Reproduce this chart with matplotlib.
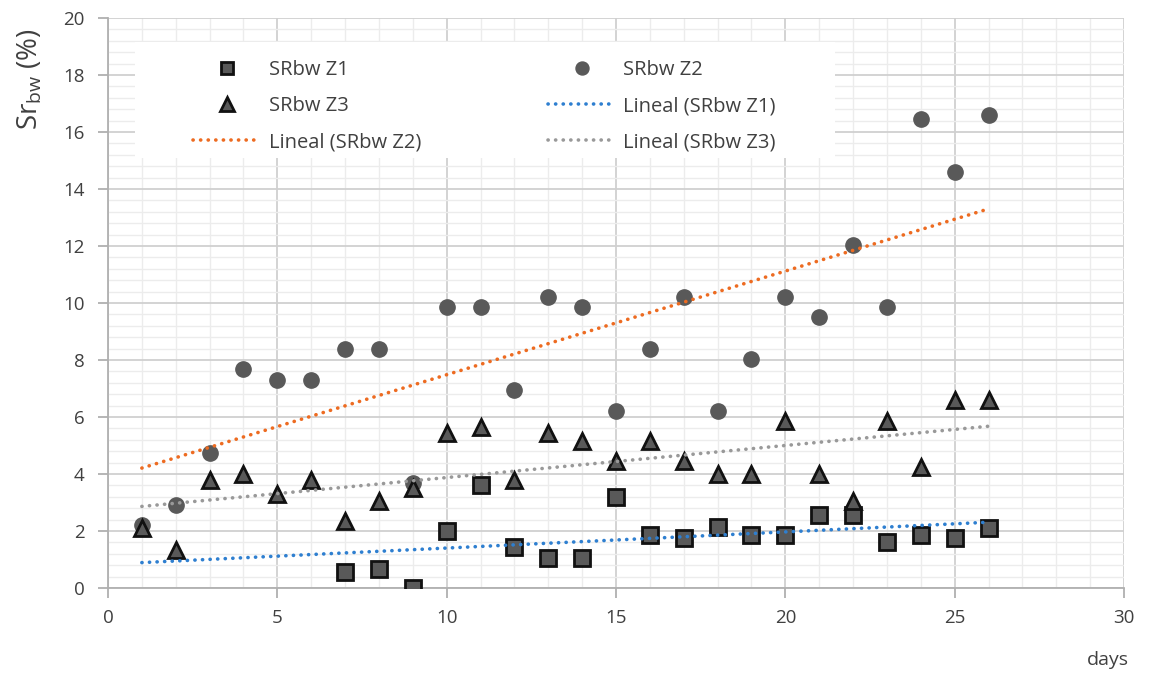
import numpy as np
import matplotlib
matplotlib.use("Agg")
import matplotlib.pyplot as plt
from matplotlib.ticker import MultipleLocator
from matplotlib.patches import Rectangle

plt.rcParams['font.family'] = ['Open Sans', 'DejaVu Sans']
plt.rcParams['mathtext.fontset'] = 'custom'
plt.rcParams['mathtext.rm'] = 'Open Sans'
plt.rcParams['mathtext.it'] = 'Open Sans'

# ---- data ----
days_z1 = list(range(7, 27))
srbw_z1 = [0.55, 0.65, 0.0, 2.0, 3.6, 1.45, 1.05, 1.05, 3.2, 1.85,
           1.75, 2.15, 1.85, 1.85, 2.55, 2.55, 1.6, 1.85, 1.75, 2.1]
days_z2 = list(range(1, 27))
srbw_z2 = [2.2, 2.9, 4.75, 7.7, 7.3, 7.3, 8.4, 8.4, 3.7, 9.85,
           9.85, 6.95, 10.2, 9.85, 6.2, 8.4, 10.2, 6.2, 8.05, 10.2,
           9.5, 12.05, 9.85, 16.45, 14.6, 16.6]
days_z3 = list(range(1, 27))
srbw_z3 = [2.1, 1.35, 3.8, 4.0, 3.3, 3.8, 2.35, 3.05, 3.5, 5.45,
           5.65, 3.8, 5.45, 5.15, 4.45, 5.15, 4.45, 4.0, 4.0, 5.85,
           4.0, 3.05, 5.85, 4.25, 6.6, 6.6]
trend_range = [1, 26]

W, H = 1151, 673
fig = plt.figure(figsize=(W/100, H/100), dpi=100)
L, R, T, B = 108, 1124, 18, 588
ax = fig.add_axes([L/W, 1-B/H, (R-L)/W, (B-T)/H])

def ax_frac(px, py):
    return (px-L)/(R-L), 1-(py-T)/(B-T)

ax.set_xlim(0, 30)
ax.set_ylim(0, 20)
ax.xaxis.set_major_locator(MultipleLocator(5))
ax.xaxis.set_minor_locator(MultipleLocator(1))
ax.yaxis.set_major_locator(MultipleLocator(2))
ax.yaxis.set_minor_locator(MultipleLocator(0.4))
ax.grid(which='minor', color='#ececec', linewidth=1.0)
ax.grid(which='major', color='#d0d0d0', linewidth=1.3)
ax.set_axisbelow(True)

for s in ['top', 'right']:
    ax.spines[s].set_visible(False)
for s in ['left', 'bottom']:
    ax.spines[s].set_color('#b0b0b0')
    ax.spines[s].set_linewidth(1.3)
ax.tick_params(which='major', length=7, color='#b0b0b0', width=1.3,
               labelsize=13.5, labelcolor='#404040', direction='out')
ax.tick_params(axis='y', pad=10)
ax.tick_params(axis='x', pad=8)
ax.tick_params(which='minor', length=0)

# legend background box
x0, y0 = ax_frac(135, 158)
x1, y1 = ax_frac(835, 42)
ax.add_patch(Rectangle((x0, y0), x1-x0, y1-y0, transform=ax.transAxes,
                       facecolor='white', edgecolor='none', zorder=1))

mcol = '#595959'
h1, = ax.plot(days_z1, srbw_z1, 's', ms=11, mfc=mcol, mec='#111111', mew=2.0,
              zorder=4, label='SRbw Z1')
h2, = ax.plot(days_z2, srbw_z2, 'o', ms=11, mfc=mcol, mec=mcol, mew=1,
              zorder=3, label='SRbw Z2')
h3, = ax.plot(days_z3, srbw_z3, '^', ms=12, mfc=mcol, mec='#111111', mew=2.0,
              zorder=5, label='SRbw Z3')

xt = np.array(trend_range, dtype=float)
def trend(x, y, color, label):
    k, b = np.polyfit(x, y, 1)
    ln, = ax.plot(xt, k*xt + b, linestyle=(0, (0.05, 2.05)), dash_capstyle='round',
                  color=color, linewidth=2.6, zorder=6, label=label)
    return ln

t1 = trend(days_z1, srbw_z1, '#2e7fd0', 'Lineal (SRbw Z1)')
t2 = trend(days_z2, srbw_z2, '#ed6b21', 'Lineal (SRbw Z2)')
t3 = trend(days_z3, srbw_z3, '#999999', 'Lineal (SRbw Z3)')

handles = [h1, h3, t2, h2, t1, t3]
lx, ly = ax_frac(193, 60)
leg = ax.legend(handles=handles, labels=[h.get_label() for h in handles],
                ncol=2, loc='upper left', bbox_to_anchor=(lx, ly),
                frameon=False, fontsize=14.5, labelcolor='#404040',
                handlelength=3.35, handletextpad=0.4,
                columnspacing=6.3, labelspacing=0.8, borderpad=0,
                borderaxespad=0, markerscale=0.85)
leg.set_zorder(7)

fig.text(30/W, 1-79/H, r'Sr$_{\mathrm{bw}}$ (%)', rotation=90,
         fontsize=20, color='#404040', ha='center', va='center')
fig.text(1108/W, 1-660/H, 'days', fontsize=14, color='#404040',
         ha='center', va='center')

fig.savefig('out.png', dpi=100)
